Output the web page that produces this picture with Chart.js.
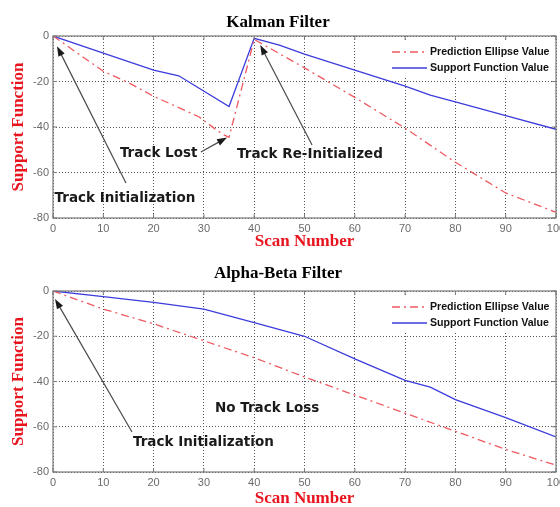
<!DOCTYPE html>
<html>
<head>
<meta charset="utf-8">
<script src="https://cdn.jsdelivr.net/npm/chart.js@4.4.0/dist/chart.umd.min.js"></script>
<style>
  html, body { margin: 0; padding: 0; background: #fff; }
  #wrap { position: relative; width: 560px; height: 507px; overflow: hidden; }
  canvas { position: absolute; left: 0; }
</style>
</head>
<body>
<div id="wrap">
  <canvas id="kalman-chart" width="560" height="255" style="top:0px"></canvas>
  <canvas id="alphabeta-chart" width="560" height="252" style="top:255px"></canvas>
</div>
<script>
// tick labels
const xTicks = [0, 10, 20, 30, 40, 50, 60, 70, 80, 90, 100];
const yTicks = [0, -20, -40, -60, -80];

// Kalman filter
const kalmanEllipseScan = [0, 10, 15, 20, 29, 32, 34, 35, 40, 50, 60, 70, 80, 90, 100];
const kalmanEllipse     = [0, -15.5, -20.5, -26.5, -35.5, -40.5, -43.5, -44.5, -1.5, -14, -27, -40.5, -55.5, -69, -77.5];
const kalmanSupportScan = [0, 10, 20, 25, 35, 40, 45, 50, 60, 70, 75, 80, 90, 100];
const kalmanSupport     = [0, -7.5, -15, -17.5, -31, -1, -4, -8, -15, -22, -26, -29, -35, -41];

// Alpha-Beta filter
const abEllipseScan = [0, 10, 20, 30, 40, 50, 60, 70, 80, 90, 100];
const abEllipse     = [0, -8, -14.5, -22, -29.5, -38, -46, -54, -62, -70, -77];
const abSupportScan = [0, 10, 20, 30, 40, 50, 60, 70, 75, 80, 90, 100];
const abSupport     = [0, -2.5, -5, -8, -14, -20, -30, -39.5, -42.5, -48, -56, -64.5];

// annotations (data units)
const kalmanNotes = [
  { text: 'Track Initialization', x: 0.3, y: -71.5 },
  { text: 'Track Lost', x: 13.3, y: -51.5 },
  { text: 'Track Re-Initialized', x: 36.6, y: -52.3 }
];
const kalmanArrows = [
  { from: [14.5, -64.6], to: [0.8, -4.5] },
  { from: [29.4, -51], to: [34.6, -44.6] },
  { from: [51.5, -47.9], to: [41.2, -4] }
];
const abNotes = [
  { text: 'Track Initialization', x: 15.9, y: -67 },
  { text: 'No Track Loss', x: 32.2, y: -52 }
];
const abArrows = [
  { from: [15.7, -62.3], to: [0.4, -3.5] }
];

const red = '#ee5a60';
const blue = '#3c3cdc';
const labelRed = '#e8141e';

function zip(xs, ys) {
  return xs.map((x, i) => ({ x: x, y: ys[i] }));
}

function drawArrow(ctx, x1, y1, x2, y2) {
  let ang = Math.atan2(y2 - y1, x2 - x1);
  let len = 10, half = 3.5;
  ctx.strokeStyle = '#4a4a4a';
  ctx.lineWidth = 1.2;
  ctx.beginPath();
  ctx.moveTo(x1, y1);
  ctx.lineTo(x2 - Math.cos(ang) * len * 0.8, y2 - Math.sin(ang) * len * 0.8);
  ctx.stroke();
  ctx.fillStyle = '#1a1a1a';
  ctx.beginPath();
  ctx.moveTo(x2, y2);
  ctx.lineTo(x2 - Math.cos(ang) * len - Math.sin(ang) * half, y2 - Math.sin(ang) * len + Math.cos(ang) * half);
  ctx.lineTo(x2 - Math.cos(ang) * len + Math.sin(ang) * half, y2 - Math.sin(ang) * len - Math.cos(ang) * half);
  ctx.closePath();
  ctx.fill();
}

// box, inward ticks, legend and annotations, matlab style
const matlabFrame = {
  id: 'matlabFrame',
  afterDraw(chart, args, opts) {
    const ctx = chart.ctx;
    const area = chart.chartArea;
    const xs = chart.scales.x, ys = chart.scales.y;
    ctx.save();

    // legend
    let lx = area.right - 166, ly = area.top + 6;
    ctx.fillStyle = '#fff';
    ctx.fillRect(lx, ly, 164, 34);
    chart.data.datasets.forEach((ds, i) => {
      let rowY = area.top + 16 + i * 16;
      ctx.strokeStyle = ds.borderColor;
      ctx.lineWidth = ds.borderWidth;
      ctx.setLineDash(ds.borderDash || []);
      ctx.beginPath();
      ctx.moveTo(lx + 2, rowY);
      ctx.lineTo(lx + 37, rowY);
      ctx.stroke();
      ctx.setLineDash([]);
      ctx.fillStyle = '#111';
      ctx.font = 'bold 10.6px "Liberation Sans"';
      ctx.textAlign = 'left';
      ctx.textBaseline = 'middle';
      ctx.fillText(ds.label, lx + 40, rowY);
    });

    // frame
    ctx.strokeStyle = '#7a7a7a';
    ctx.lineWidth = 1.2;
    ctx.strokeRect(area.left, area.top, area.right - area.left, area.bottom - area.top);
    ctx.lineWidth = 1;
    ctx.beginPath();
    xTicks.forEach(v => {
      let px = xs.getPixelForValue(v);
      ctx.moveTo(px, area.top); ctx.lineTo(px, area.top + 4);
      ctx.moveTo(px, area.bottom); ctx.lineTo(px, area.bottom - 4);
    });
    yTicks.forEach(v => {
      let py = ys.getPixelForValue(v);
      ctx.moveTo(area.left, py); ctx.lineTo(area.left + 4, py);
      ctx.moveTo(area.right, py); ctx.lineTo(area.right - 4, py);
    });
    ctx.stroke();

    // annotations
    (opts.arrows || []).forEach(a => {
      drawArrow(ctx, xs.getPixelForValue(a.from[0]), ys.getPixelForValue(a.from[1]),
                     xs.getPixelForValue(a.to[0]), ys.getPixelForValue(a.to[1]));
    });
    ctx.font = 'bold 13.5px "DejaVu Sans"';
    ctx.fillStyle = '#1a1a1a';
    ctx.textAlign = 'left';
    ctx.textBaseline = 'middle';
    (opts.notes || []).forEach(n => {
      ctx.fillText(n.text, xs.getPixelForValue(n.x), ys.getPixelForValue(n.y));
    });
    ctx.restore();
  }
};

function buildChart(canvasId, cfg) {
  const serif = { family: '"Liberation Serif", "Times New Roman", serif', size: 17, weight: 'bold', lineHeight: 1 };
  return new Chart(document.getElementById(canvasId), {
    type: 'line',
    data: {
      datasets: [
        { label: 'Prediction Ellipse Value', data: zip(cfg.ellipseX, cfg.ellipseY), borderColor: red,
          borderWidth: 1.3, borderDash: [8, 4, 2, 4], pointRadius: 0, tension: 0, fill: false },
        { label: 'Support Function Value', data: zip(cfg.supportX, cfg.supportY), borderColor: blue,
          borderWidth: 1.3, pointRadius: 0, tension: 0, fill: false }
      ]
    },
    options: {
      responsive: false,
      animation: false,
      layout: { padding: { left: 0, right: 4, top: 0, bottom: 0 } },
      plugins: {
        legend: { display: false },
        tooltip: { enabled: false },
        title: { display: true, text: cfg.title, color: '#000', font: serif,
                 padding: { top: cfg.titleTop, bottom: cfg.titleBottom } },
        matlabFrame: { notes: cfg.notes, arrows: cfg.arrows }
      },
      scales: {
        x: {
          type: 'linear', min: 0, max: 100,
          afterBuildTicks: s => { s.ticks = xTicks.map(v => ({ value: v })); },
          afterFit: s => { s.height = cfg.xAxisHeight; s.paddingLeft = 0; s.paddingRight = 0; },
          ticks: { color: '#6a6a6a', font: { family: '"Liberation Sans"', size: 11 }, padding: 4, maxRotation: 0, autoSkip: false },
          grid: { color: '#555', lineWidth: 1, drawTicks: false },
          border: { display: false, dash: [1, 2] },
          title: { display: true, text: 'Scan Number', color: labelRed, font: serif,
                   padding: { top: 0, bottom: cfg.xTitleBottom } }
        },
        y: {
          type: 'linear', min: -80, max: 0,
          afterBuildTicks: s => { s.ticks = yTicks.map(v => ({ value: v })); },
          afterFit: s => { s.width = 53; s.paddingTop = 0; s.paddingBottom = 0; },
          ticks: { color: '#6a6a6a', font: { family: '"Liberation Sans"', size: 11 }, padding: 4, autoSkip: false },
          grid: { color: '#555', lineWidth: 1, drawTicks: false },
          border: { display: false, dash: [1, 2] },
          title: { display: true, text: 'Support Function', color: labelRed, font: serif,
                   padding: { top: 10, bottom: 0 } }
        }
      }
    },
    plugins: [matlabFrame]
  });
}

buildChart('kalman-chart', {
  title: 'Kalman Filter', titleTop: 14, titleBottom: 5,
  xAxisHeight: 37, xTitleBottom: 5,
  ellipseX: kalmanEllipseScan, ellipseY: kalmanEllipse,
  supportX: kalmanSupportScan, supportY: kalmanSupport,
  notes: kalmanNotes, arrows: kalmanArrows
});

buildChart('alphabeta-chart', {
  title: 'Alpha-Beta Filter', titleTop: 10.5, titleBottom: 8.5,
  xAxisHeight: 35, xTitleBottom: 0,
  ellipseX: abEllipseScan, ellipseY: abEllipse,
  supportX: abSupportScan, supportY: abSupport,
  notes: abNotes, arrows: abArrows
});
</script>
</body>
</html>
